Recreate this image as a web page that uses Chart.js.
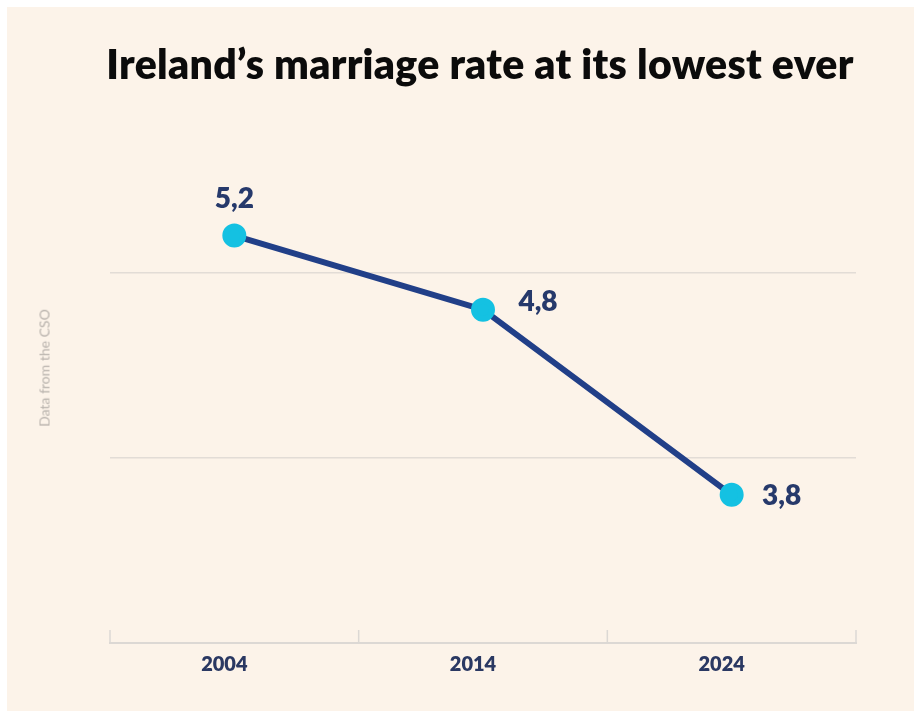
<!DOCTYPE html>
<html lang="en">

<head>
    <meta charset="UTF-8">
    <title>Ireland's marriage rate</title>
    <script src="https://cdn.jsdelivr.net/npm/chart.js"></script>
    <style>
        html, body { margin: 0; padding: 0; background: #ffffff; }
        .painel {
            position: absolute; left: 7px; top: 7px; width: 907px; height: 704px;
            background: #fcf3e9;
        }
        .titulo {
            position: absolute; left: 0; top: 39px; width: 914px; text-align: center;
            font-family: Lato, sans-serif; font-weight: 800; font-size: 41px;
            color: #0b0b0b; letter-spacing: 0.3px; margin-left: 23px;
        }
        .fonte {
            position: absolute; left: 44px; top: 368px;
            transform: translate(-50%, -50%) rotate(-90deg);
            font-family: Lato, sans-serif; font-weight: 400; font-size: 14px; color: #b8b2ac; white-space: nowrap;
        }
        canvas { position: absolute; left: 0; top: 0; }
    </style>
</head>

<body>
    <div class="painel"></div>
    <canvas id="myChart" width="914" height="711"></canvas>
    <div class="titulo">Ireland’s marriage rate at its lowest ever</div>
    <div class="fonte">Data from the CSO</div>

<script>
    const anos = ['2004', '2014', '2024'];
    const taxas = [5.2, 4.8, 3.8];
    const rotulos = ['5,2', '4,8', '3,8'];
    const linhasGrade = [4, 5];

    const ctx = document.getElementById('myChart');

    // rotulos de valor ao lado de cada ponto
    const rotulosPlugin = {
        id: 'rotulos',
        afterDatasetsDraw(chart) {
            const meta = chart.getDatasetMeta(0);
            const c = chart.ctx;
            c.save();
            c.font = '800 28px Lato, sans-serif';
            c.fillStyle = '#26396b';
            c.textAlign = 'center';
            c.textBaseline = 'middle';
            meta.data.forEach(function (p, i) {
                let dx = 55, dy = -8;
                if (i === 0) { dx = 0; dy = -37; }
                if (i === 2) { dx = 50; dy = 1; }
                c.fillText(rotulos[i], p.x + dx, p.y + dy);
            });
            c.restore();
        }
    };

    // pequenos tracos verticais acima do eixo x, entre categorias
    const tracosPlugin = {
        id: 'tracos',
        beforeDatasetsDraw(chart) {
            const x = chart.scales.x;
            const base = chart.chartArea.bottom;
            const c = chart.ctx;
            const pos = [x.left];
            for (let i = 1; i < anos.length; i++) {
                pos.push((x.getPixelForValue(i - 1) + x.getPixelForValue(i)) / 2);
            }
            pos.push(x.right);
            c.save();
            c.strokeStyle = '#dcd8d4';
            c.lineWidth = 1.5;
            pos.forEach(function (px) {
                c.beginPath();
                c.moveTo(px, base - 13);
                c.lineTo(px, base);
                c.stroke();
            });
            c.restore();
        }
    };

    const chart = new Chart(ctx, {
        type: 'line',
        data: {
            labels: anos,
            datasets: [{
                data: taxas,
                borderColor: '#213f88',
                borderWidth: 6,
                pointBackgroundColor: '#14c1e2',
                pointBorderColor: '#14c1e2',
                pointRadius: 9,
                pointHoverRadius: 9,
                tension: 0
            }]
        },
        options: {
            responsive: false,
            animation: false,
            layout: { padding: { top: 180, left: 110, right: 58, bottom: 32 } },
            plugins: { legend: { display: false }, tooltip: { enabled: false } },
            scales: {
                x: {
                    offset: true,
                    grid: { display: false },
                    border: { display: true, color: '#dcd8d4', width: 2 },
                    ticks: {
                        color: '#2a3862',
                        font: { family: 'Lato, sans-serif', size: 20, weight: '800' },
                        padding: 2,
                        labelOffset: -10
                    }
                },
                y: {
                    min: 3,
                    max: 5.5,
                    ticks: { display: false, stepSize: 1 },
                    border: { display: false },
                    grid: {
                        drawTicks: false,
                        lineWidth: 1.5,
                        color: function (c) {
                            return linhasGrade.includes(c.tick.value) ? '#e2dcd6' : 'rgba(0,0,0,0)';
                        }
                    }
                }
            }
        },
        plugins: [rotulosPlugin, tracosPlugin]
    });
</script>
</body>

</html>
